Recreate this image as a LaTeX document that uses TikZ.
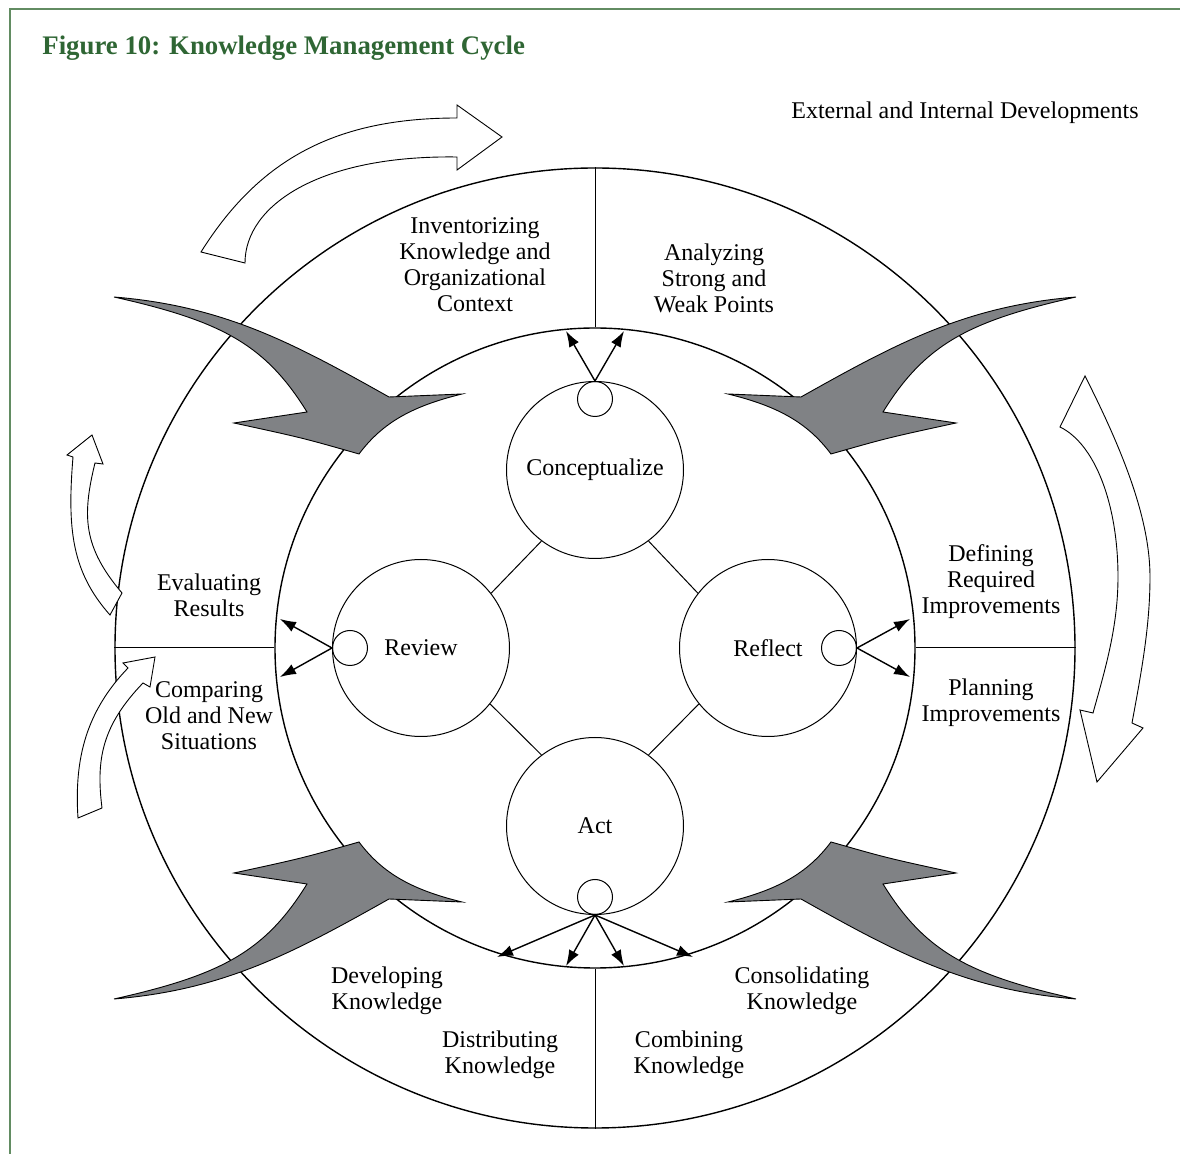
\documentclass[tikz,border=0pt]{standalone}
\usepackage{fontspec}
\setmainfont{Liberation Serif}
\usetikzlibrary{arrows.meta,positioning}

\definecolor{kmgreen}{RGB}{47,102,52}
\definecolor{kmframe}{RGB}{98,140,98}
\definecolor{kmgray}{RGB}{128,130,133}

\tikzset{
    kmtext/.style={align=center, inner sep=0pt, font=\fontsize{12}{13}\selectfont},
    flow/.style={-{Latex[length=8pt,width=5.5pt]}, line width=0.7pt},
    swooshstyle/.style={fill=kmgray, draw=black, line width=0.45pt},
    hollowstyle/.style={fill=white, draw=black, line width=0.45pt},
}

% gray arrow, given around the centre of the cycle
\newcommand{\swoosh}{(-481,-351) .. controls (-371,-342) and (-302,-305) .. (-206,-251)
    -- (-133,-254) .. controls (-182,-242) and (-212,-226) .. (-236,-194)
    .. controls (-292,-210) .. (-361,-225)
    -- (-288,-236) .. controls (-330,-304) and (-374,-327) .. (-481,-351) -- cycle}

\begin{document}
\begin{tikzpicture}[x=0.5pt, y=-0.5pt]
    \useasboundingbox (0,0) rectangle (1180,1154);

    % frame and title
    \draw[kmframe, line width=1pt] (10,1154) -- (10,9) -- (1180,9);
    \node[anchor=west, inner sep=0pt, text=kmgreen, font=\fontsize{13.4}{16}\bfseries\selectfont] (title) at (42,48) {Figure 10: Knowledge Management Cycle};

    \begin{scope}[every node/.style={circle, draw, line width=0.7pt, inner sep=0pt}]
        \node[minimum size=480pt] (outer) at (595,648) {};
        \node[minimum size=320pt] (ring) at (595,648) {};
    \end{scope}

    \begin{scope}[every edge/.style={draw, line width=0.5pt}]
        \path (ring.north) edge (outer.north);
        \path (ring.south) edge (outer.south);
        \path (ring.west) edge (outer.west);
        \path (ring.east) edge (outer.east);
    \end{scope}

    % gray arrows
    \begin{scope}[shift={(595,648)}]
        \draw[swooshstyle] \swoosh;
        \draw[swooshstyle, xscale=-1] \swoosh;
        \draw[swooshstyle, yscale=-1] \swoosh;
        \draw[swooshstyle, scale=-1] \swoosh;
    \end{scope}

    % hollow arrows
    \draw[hollowstyle] (201,252) .. controls (260,158) and (337,118) .. (457,118)
        -- (457,105) -- (502,137) -- (457,170) -- (457,157)
        .. controls (320,155) and (245,205) .. (245,263) -- cycle;
    \draw[hollowstyle] (1085,376) .. controls (1124,453) and (1150,520) .. (1150,577)
        .. controls (1150,627) and (1141,674) .. (1132,723)
        -- (1143,728) -- (1097,782) -- (1080,710) -- (1093,713)
        .. controls (1105,670) and (1118,627) .. (1118,577)
        .. controls (1118,504) and (1095,444) .. (1060,427) -- cycle;
    \draw[hollowstyle] (110,615) -- (122,593) .. controls (83,547) and (82,516) .. (95,463)
        -- (103,464) -- (92,435) -- (67,455) -- (73,457)
        .. controls (67,530) and (72,572) .. (110,615) -- cycle;
    \draw[hollowstyle] (78,818) .. controls (74,758) and (86.6,711) .. (128,668)
        -- (123,663) -- (155,657) -- (150,687) -- (143,683)
        .. controls (101.6,726) and (96,760) .. (102,808) -- cycle;

    \begin{scope}[every node/.style={circle, draw, line width=0.5pt, minimum size=88.5pt, kmtext}]
        \node (concept) at (595,470) {Conceptualize};
        \node (review) at (421,648) {Review};
        \node (reflect) at (768,648) {Reflect};
        \node (act) at (595,826) {Act};
    \end{scope}

    \begin{scope}[every node/.style={circle, draw, line width=0.5pt, minimum size=17.5pt, inner sep=0pt}]
        \node[anchor=north] (cdot) at (concept.north) {};
        \node[anchor=west] (rvdot) at (review.west) {};
        \node[anchor=east] (rfdot) at (reflect.east) {};
        \node[anchor=south] (adot) at (act.south) {};
    \end{scope}

    \begin{scope}[every edge/.style={draw, line width=0.5pt}]
        \path (concept.-127) edge (review.38);
        \path (concept.-53) edge (reflect.142);
        \path (review.-39) edge (act.127);
        \path (reflect.-141) edge (act.53);
    \end{scope}

    % ends of the arrows on the ring
    \coordinate (ctl) at (566,331);
    \coordinate (ctr) at (624,331);
    \coordinate (rvt) at (280,619);
    \coordinate (rvb) at (280,677);
    \coordinate (rft) at (910,619);
    \coordinate (rfb) at (910,677);
    \coordinate (at1) at (497,957);
    \coordinate (at2) at (566,966);
    \coordinate (at3) at (624,966);
    \coordinate (at4) at (693,957);

    \begin{scope}[every edge/.style={draw, flow}]
        \path (cdot.north) edge (ctl) edge (ctr);
        \path (rvdot.west) edge (rvt) edge (rvb);
        \path (rfdot.east) edge (rft) edge (rfb);
        \path (adot.south) edge (at1) edge (at2) edge (at3) edge (at4);
    \end{scope}

    \begin{scope}[every node/.style={kmtext}]
        \node (extdev) at (965,113) {External and Internal Developments};
        \node (inventor) at (475,265) {Inventorizing\\Knowledge and\\Organizational\\Context};
        \node (analyze) at (714,278) {Analyzing\\Strong and\\Weak Points};
        \node (defining) at (991,582) {Defining\\Required\\Improvements};
        \node (planning) at (991,703) {Planning\\Improvements};
        \node (evaluate) at (209,595) {Evaluating\\Results};
        \node (compare) at (209,716) {Comparing\\Old and New\\Situations};
        \node (develop) at (387,991) {Developing\\Knowledge};
        \node (distrib) at (500,1055) {Distributing\\Knowledge};
        \node (combine) at (689,1055) {Combining\\Knowledge};
        \node (consolid) at (802,991) {Consolidating\\Knowledge};
    \end{scope}
\end{tikzpicture}
\end{document}
